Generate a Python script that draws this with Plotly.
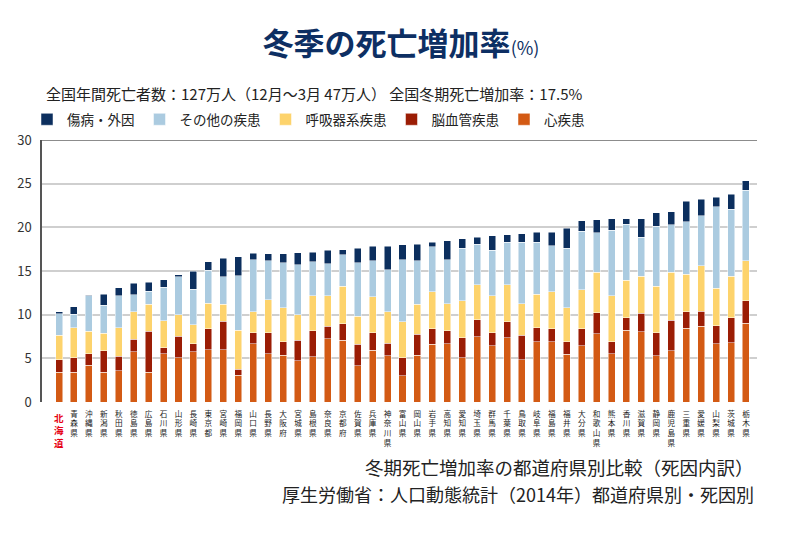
import plotly.graph_objects as go

prefs = ["北海道", "青森県", "沖縄県", "新潟県", "秋田県", "徳島県", "広島県", "石川県", "山形県", "長崎県",
         "東京都", "宮崎県", "福岡県", "山口県", "長野県", "大阪府", "宮城県", "島根県", "奈良県", "京都府",
         "佐賀県", "兵庫県", "神奈川県", "富山県", "岡山県", "岩手県", "高知県", "愛知県", "埼玉県", "群馬県",
         "千葉県", "鳥取県", "岐阜県", "福島県", "福井県", "大分県", "和歌山県", "熊本県", "香川県", "滋賀県",
         "静岡県", "鹿児島県", "三重県", "愛媛県", "山梨県", "茨城県", "栃木県"]

heart = [3.38, 3.38, 4.19, 3.42, 3.60, 5.77, 3.38, 5.54, 5.04, 5.77,
         6.00, 6.00, 3.04, 6.65, 5.54, 5.38, 4.73, 5.19, 7.23, 7.08,
         4.15, 5.92, 5.31, 3.00, 5.38, 6.62, 6.69, 5.08, 7.46, 6.46,
         7.35, 4.85, 6.92, 6.92, 5.46, 6.46, 7.81, 5.54, 8.23, 8.04,
         5.27, 5.88, 8.46, 8.69, 6.65, 6.81, 9.04]
cerebro = [1.47, 1.66, 1.31, 2.46, 1.63, 1.42, 4.70, 0.69, 2.50, 0.88,
           2.38, 3.27, 0.69, 1.27, 2.38, 1.50, 2.35, 2.96, 1.46, 1.88,
           2.47, 2.00, 1.42, 2.04, 2.39, 1.76, 1.46, 2.27, 1.96, 1.46,
           1.84, 2.80, 1.58, 1.46, 1.46, 1.92, 2.42, 1.38, 1.39, 2.15,
           2.65, 3.50, 1.85, 1.73, 2.08, 2.84, 2.54]
resp = [2.77, 3.46, 2.60, 2.00, 3.27, 3.16, 3.12, 3.07, 2.46, 2.20,
        2.92, 1.93, 4.46, 2.43, 3.77, 3.92, 2.92, 4.00, 3.50, 4.27,
        3.19, 4.16, 3.58, 4.15, 3.42, 4.24, 3.12, 4.23, 4.00, 4.23,
        4.23, 3.58, 3.81, 4.27, 3.89, 4.50, 4.65, 5.27, 4.34, 4.23,
        5.35, 5.50, 4.31, 5.16, 4.27, 4.77, 4.61]
other = [2.50, 1.54, 4.09, 3.20, 3.65, 1.92, 1.50, 3.85, 4.35, 4.07,
         3.80, 3.15, 6.27, 5.92, 4.50, 5.12, 5.70, 3.93, 3.66, 3.62,
         6.11, 4.07, 4.84, 7.08, 4.96, 5.15, 5.00, 6.04, 4.66, 5.23,
         4.89, 7.08, 6.00, 5.27, 6.81, 6.66, 4.50, 7.46, 6.39, 4.46,
         6.85, 5.39, 6.03, 5.73, 9.38, 7.66, 8.08]
injury = [0.23, 0.88, 0.05, 1.27, 0.95, 1.31, 1.00, 0.85, 0.23, 2.04,
          0.94, 2.11, 2.19, 0.77, 0.81, 1.08, 1.40, 1.07, 1.50, 0.61,
          1.70, 1.66, 2.66, 1.73, 1.89, 0.50, 2.19, 1.07, 0.77, 1.66,
          0.84, 0.96, 1.15, 1.54, 2.26, 1.19, 1.50, 1.35, 0.65, 2.12,
          1.53, 1.54, 2.31, 1.88, 1.08, 1.69, 1.04]

series = [
    ("心疾患", heart, "#d35a14"),
    ("脳血管疾患", cerebro, "#9b1d05"),
    ("呼吸器系疾患", resp, "#fdd36c"),
    ("その他の疾患", other, "#abcbe0"),
    ("傷病・外因", injury, "#0c2f5e"),
]

FONT = "Noto Sans CJK JP"
# the page body adds an 8px offset; size the figure so it ends at the window edge
OFF = 8
W, H = 800 - OFF, 534 - OFF
# target positions in window pixels
L_, R_, T_, B_ = 42, 757, 140, 402
ML, MR, MT, MB = L_ - OFF, (800 - R_), T_ - OFF, 534 - B_
PW, PH = W - ML - MR, H - MT - MB
xs = list(range(len(prefs)))

# first prefecture (highlighted in red) is written as an annotation below its bar
tickvals = xs[1:]
ticktext = ["<br>".join(list(p)) for p in prefs[1:]]

fig = go.Figure()
for name, vals, color in series:
    fig.add_trace(go.Bar(
        x=xs, y=vals, name=name, width=0.47,
        marker=dict(color=color, line=dict(color="rgba(255,255,255,0.7)", width=0.7)),
        hoverinfo="skip",
    ))


def py(pix):
    return (B_ - pix) / PH


def px(pix):
    return (pix - L_) / PW


fig.update_layout(
    barmode="stack",
    width=W, height=H,
    margin=dict(l=ML, r=MR, t=MT, b=MB),
    paper_bgcolor="white", plot_bgcolor="white",
    font=dict(family=FONT, color="#222"),
    title=dict(
        text="<b>冬季の死亡増加率</b><span style='font-size:18px'>(%)</span>",
        x=(401 - OFF) / W, xanchor="center", y=1 - (44 - OFF) / H, yanchor="middle",
        font=dict(family=FONT, size=31, color="#0d2f63"),
    ),
    legend=dict(
        orientation="h", traceorder="reversed",
        xref="paper", yref="paper",
        x=px(27), xanchor="left", y=py(119.5), yanchor="middle",
        font=dict(family=FONT, size=13.5, color="#222"),
        bgcolor="rgba(0,0,0,0)",
    ),
    xaxis=dict(
        range=[-1.14, 46.74], tickmode="array", tickvals=tickvals, ticktext=ticktext,
        showgrid=False, showline=False, zeroline=False, ticks="", automargin=False,
        ticklabelstandoff=6,
        tickfont=dict(family=FONT, size=7.6, color="#1a1a1a"), tickangle=0,
    ),
    yaxis=dict(
        range=[0, 30], dtick=5, showgrid=True, gridcolor="#cfcfcf", gridwidth=1.5,
        showline=True, linecolor="#555", linewidth=1.5, automargin=False,
        zeroline=True, zerolinecolor="white", zerolinewidth=1,
        ticks="", ticklabelstandoff=6,
        tickfont=dict(family=FONT, size=13, color="#333"),
    ),
    showlegend=True,
)

fig.add_shape(type="line", xref="paper", yref="y", x0=0, x1=1, y0=30, y1=30,
              line=dict(color="#666", width=1.5))

fig.add_annotation(
    text="<b>" + "<br>".join(list(prefs[0])) + "</b>",
    xref="x", yref="paper", x=xs[0], y=py(409), xanchor="center", yanchor="top",
    showarrow=False, font=dict(family=FONT, size=9.5, color="#e60012"),
)

fig.add_annotation(
    text="全国年間死亡者数：127万人（12月～3月 47万人） 全国冬期死亡増加率：17.5%",
    xref="paper", yref="paper", x=px(44), y=py(93),
    xanchor="left", yanchor="middle", showarrow=False,
    font=dict(family=FONT, size=15, color="#222"),
)
fig.add_annotation(
    text="冬期死亡増加率の都道府県別比較（死因内訳）",
    xref="paper", yref="paper", x=px(756), y=py(467),
    xanchor="right", yanchor="middle", showarrow=False,
    font=dict(family=FONT, size=18.5, color="#222"),
)
fig.add_annotation(
    text="厚生労働省：人口動態統計（2014年）都道府県別・死因別",
    xref="paper", yref="paper", x=px(756), y=py(494),
    xanchor="right", yanchor="middle", showarrow=False,
    font=dict(family=FONT, size=18, color="#222"),
)

fig.write_html("out.html")
